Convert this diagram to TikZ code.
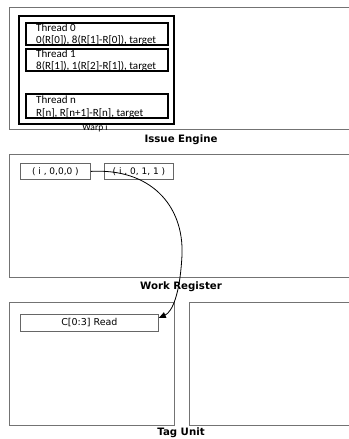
\documentclass[tikz,border=0pt]{standalone}
\usepackage{fontspec}
\setmainfont{DejaVu Sans}
\newfontfamily\threadfont{Carlito}
\usetikzlibrary{arrows.meta}
\begin{document}
\begin{tikzpicture}[x=1pt,y=-1pt,
  panel/.style={draw=black!55, line width=0.9pt},
  thick box/.style={draw=black, line width=2.6pt},
  cell/.style={draw=black!60, line width=0.8pt, fill=white, inner sep=0pt, font=\fontsize{9}{10}\selectfont},
  thread/.style={anchor=base west, inner sep=0pt, font=\threadfont\fontsize{11}{12}\selectfont},
  caption/.style={font=\bfseries\fontsize{10.2}{12}\selectfont}]
\useasboundingbox (0,0) rectangle (348,439);

% Issue engine panel
\draw[panel] (352,7) -- (9,7) -- (9,129) -- (352,129);
\node[caption] (ie) at (181,140) {Issue Engine};
\node[font=\threadfont\fontsize{9.5}{10}\selectfont, inner sep=0pt, anchor=base] (warplbl) at (95,130) {Warp i};
\draw[thick box, fill=white] (19,16) rectangle (174,124);
\begin{scope}
\clip (27.5,24.5) rectangle (166.5,43.7);
\node[thread] (t0a) at (36,31.5) {Thread 0};
\node[thread] (t0b) at (36,43.8) {0(R[0]), 8(R[1]-R[0]), target};
\end{scope}
\begin{scope}
\clip (27.5,50.5) rectangle (166.5,69.7);
\node[thread] (t1a) at (36,57.5) {Thread 1};
\node[thread] (t1b) at (36,69.8) {8(R[1]), 1(R[2]-R[1]), target};
\end{scope}
\begin{scope}
\clip (27.5,95.5) rectangle (166.5,116.7);
\node[thread] (tna) at (36,103.5) {Thread n};
\node[thread] (tnb) at (36,116.5) {R[n], R[n+1]-R[n], target};
\end{scope}
\draw[thick box] (26,23) rectangle (168,45);
\draw[thick box] (26,49) rectangle (168,71);
\draw[thick box] (26,94) rectangle (168,118);

% Work register panel
\draw[panel] (352,154) -- (9,154) -- (9,277) -- (352,277);
\node[caption] (wr) at (181,287) {Work Register};
\node[cell, minimum width=70pt, minimum height=16pt, anchor=north west] (w0) at (20,163) {( i , 0,0,0 )};
\node[cell, minimum width=69pt, minimum height=16pt, anchor=north west] (w1) at (104,163) {( i , 0, 1, 1 )};

% Tag unit panels
\draw[panel] (9,302) rectangle (174,425);
\draw[panel] (352,302) -- (189,302) -- (189,425) -- (352,425);
\node[caption] (tu) at (181,432.5) {Tag Unit};
\node[cell, minimum width=138pt, minimum height=17pt, anchor=north west, font=\fontsize{9.5}{10}\selectfont] (rd) at (20,314) {C[0:3] Read};

% Request path from the work register into the tag unit
\draw[line width=0.8pt, -{Triangle[length=7pt,width=6pt]}]
  (w0.east) .. controls (150,168) and (184,205) .. (182,255)
  .. controls (180,295) and (172,312) .. ([yshift=5pt]rd.east);
\end{tikzpicture}
\end{document}
